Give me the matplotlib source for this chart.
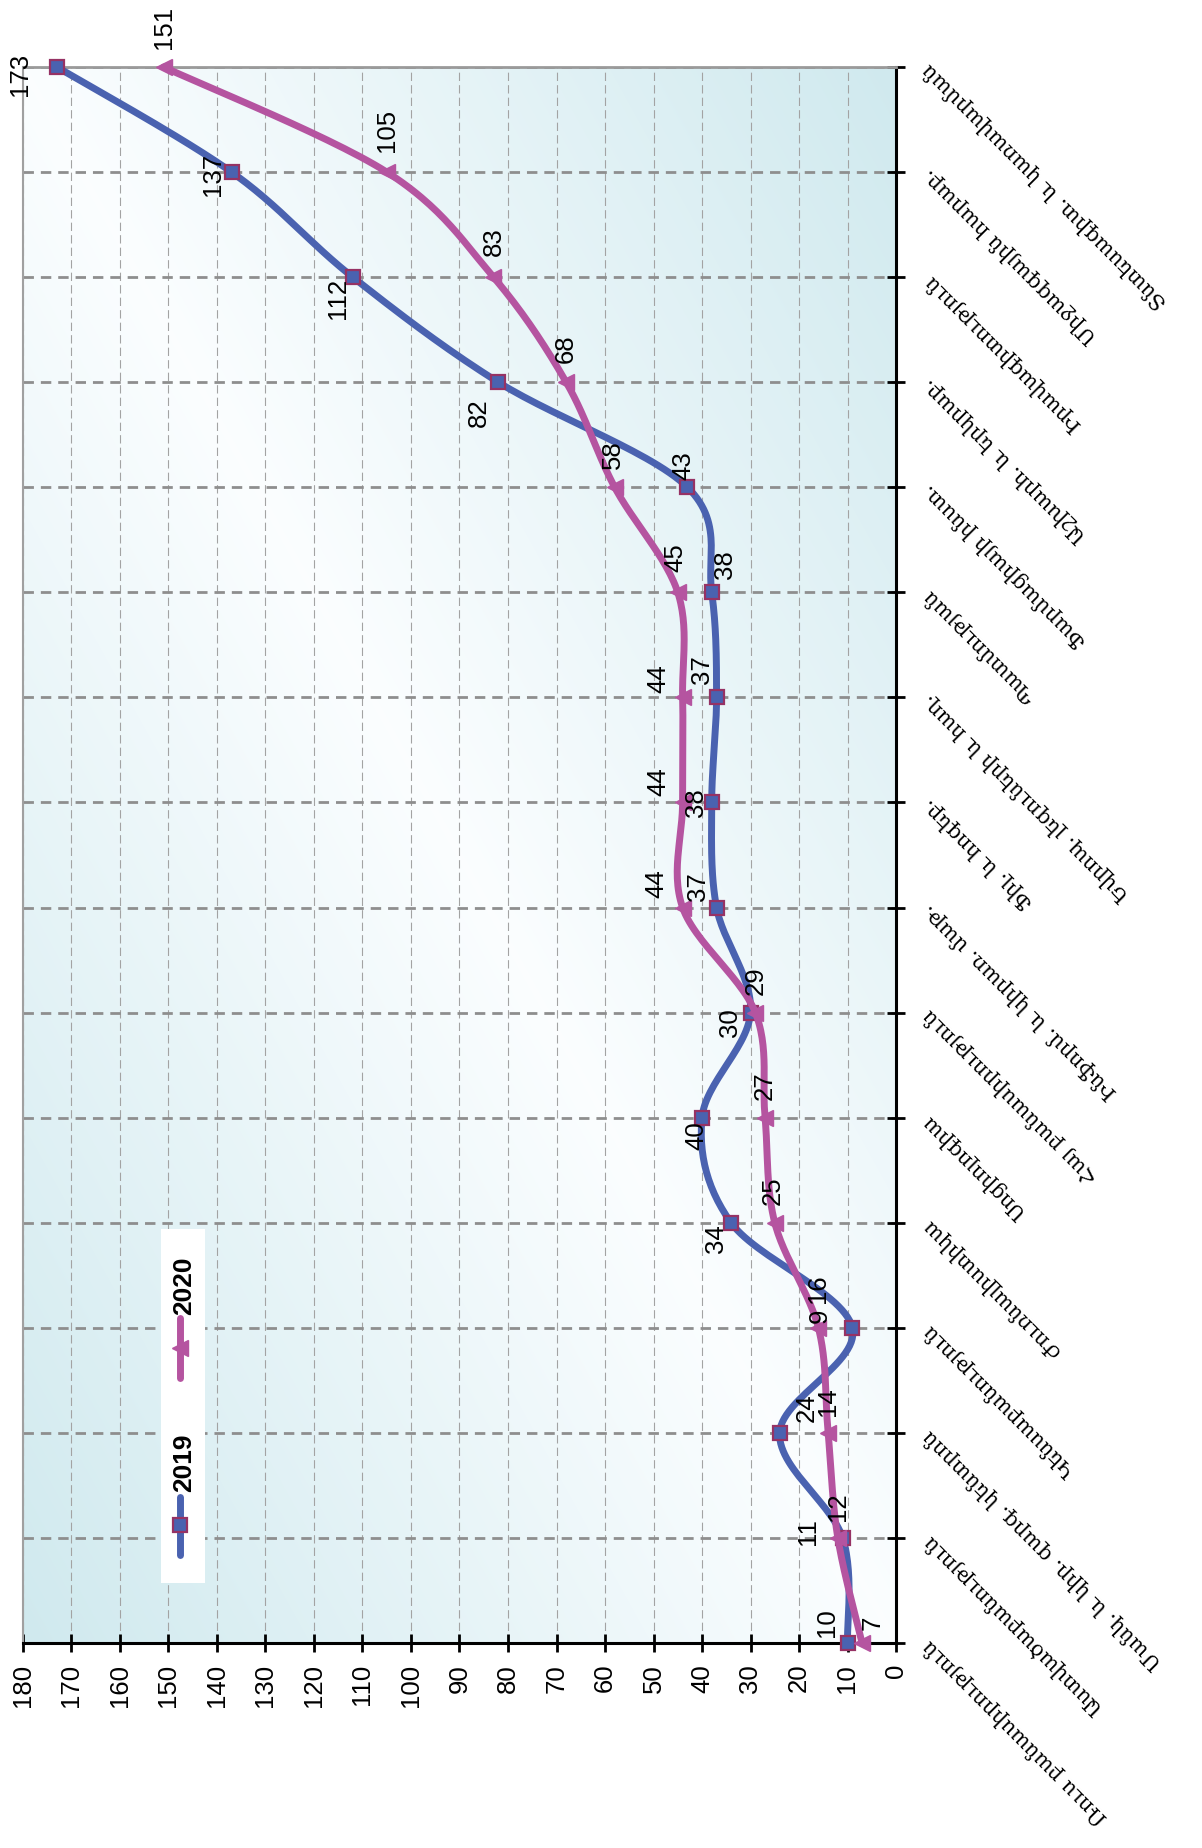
import numpy as np
import matplotlib.pyplot as plt
from matplotlib.patches import Rectangle
from matplotlib.lines import Line2D

plt.rcParams['font.family'] = ['Liberation Sans', 'DejaVu Sans']
plt.rcParams['lines.scale_dashes'] = False

# Ֆակուլտետներ (ներքևից վերև)
categories = [
    'Ռուս բանասիրություն',
    'Աստվածաբանություն',
    'Մանկ. և կիր. զարգ. կենտրոն',
    'Կենսաբանություն',
    'Ժուռնալիստիկա',
    'Սոցիոլոգիա',
    'Հայ բանասիրություն',
    'Ինֆորմ. և կիրառ. մաթ.',
    'Ֆիլ. և հոգեբ.',
    'Եվրոպ. լեզուների և հաղ.',
    'Պատմության',
    'Ֆարմացիայի ինստ.',
    'Աշխարհ. և երկրաբ.',
    'Իրավագիտություն',
    'Միջազգային հարաբ.',
    'Տնտեսագիտ. և կառավարման',
]
v2019 = [10, 11, 24, 9, 34, 40, 30, 37, 38, 37, 38, 43, 82, 112, 137, 173]
v2020 = [7, 12, 14, 16, 25, 27, 29, 44, 44, 44, 45, 58, 68, 83, 105, 151]
value_ticks = list(range(0, 181, 10))

# label offsets, pixels (right, down)
off2019 = [(-20, -20), (-35, -6), (27, -25), (-33, -12), (-15, 16), (-6, 18), (-20, 10), (-19, -21),
           (-16, 0), (-15, -28), (13, -28), (-4, -22), (-19, 30), (-15, 21), (-19, 2), (-37, 7)]
off2020 = [(11, -20), (0, -31), (0, -31), (0, -39), (-2, -32), (0, -32), (0, -32), (-26, -24),
           (-24, -21), (-24, -19), (-2, -35), (-2, -33), (0, -34), (0, -36), (0, -42), (0, -40)]

blue = '#4a62b0'
pink = '#b554a0'
edge = '#963264'


def smooth(vals, n=30):
    # Bezier smoothing through the points (like Excel "smoothed line")
    p = np.column_stack([np.array(vals, float), np.arange(len(vals), dtype=float)])
    ext = np.vstack([p[0], p, p[-1]])
    xs, ys = [], []
    t = np.linspace(0, 1, n)[:, None]
    for k in range(len(p) - 1):
        p0, p1, p2, p3 = ext[k], ext[k + 1], ext[k + 2], ext[k + 3]
        c1 = p1 + (p2 - p0) / 6
        c2 = p2 - (p3 - p1) / 6
        seg = (1 - t) ** 3 * p1 + 3 * (1 - t) ** 2 * t * c1 + 3 * (1 - t) * t ** 2 * c2 + t ** 3 * p2
        xs.append(seg[:, 0])
        ys.append(seg[:, 1])
    return np.concatenate(xs), np.concatenate(ys)


fig = plt.figure(figsize=(12.02, 18.48), dpi=100)
ax = fig.add_axes([23 / 1202, 1 - 1643 / 1848, 873 / 1202, 1576 / 1848])

n = len(categories)
idx = np.arange(n)
ax.set_xlim(180, 0)
ax.set_ylim(0, n - 1)

# gradient background: white along the diagonal, teal at top-right and bottom-left
gx, gy = np.meshgrid(np.linspace(0, 1, 300), np.linspace(0, 1, 300))
tt = np.abs(gx - gy)
white = np.array([0.985, 0.995, 1.0])
teal = np.array([0.815, 0.915, 0.935])
img = white + (teal - white) * tt[..., None]
ax.imshow(img, extent=[180, 0, 0, n - 1], aspect='auto', zorder=0, interpolation='bilinear')

ax.set_axisbelow(True)
ax.xaxis.grid(True, color='#a3a3a3', lw=0.8, ls=(0, (6, 3)))
ax.yaxis.grid(True, color='#8e8e8e', lw=2.0, ls=(0, (7.5, 5)))

# lines
bx, by = smooth(v2019)
ax.plot(bx, by, color=blue, lw=5, solid_capstyle='round', zorder=3, clip_on=False)
ax.plot(v2019, idx, ls='none', marker='s', ms=9.5, mfc=blue, mec=edge, mew=1.6, zorder=4, clip_on=False)
px, py = smooth(v2020)
ax.plot(px, py, color=pink, lw=5, solid_capstyle='round', zorder=5, clip_on=False)
ax.plot(v2020, idx, ls='none', marker='<', ms=11, mfc=pink, mec=pink, zorder=6, clip_on=False)

for i in range(n):
    dx, dy = off2019[i]
    ax.annotate(str(v2019[i]), (v2019[i], i), xytext=(dx * 0.72, -dy * 0.72), textcoords='offset points',
                rotation=90, ha='center', va='center', fontsize=18.5, zorder=8)
    dx, dy = off2020[i]
    ax.annotate(str(v2020[i]), (v2020[i], i), xytext=(dx * 0.72, -dy * 0.72), textcoords='offset points',
                rotation=90, ha='center', va='center', fontsize=18.5, zorder=8)

# axes
for s in ['right', 'bottom']:
    ax.spines[s].set_color('black')
    ax.spines[s].set_linewidth(2.2)
ax.spines['top'].set_color('#9a9a9a')
ax.spines['top'].set_linewidth(2)
ax.spines['left'].set_color('#a0a0a0')
ax.spines['left'].set_linewidth(1.5)

ax.set_xticks(value_ticks)
ax.set_xticklabels([str(v) for v in value_ticks])
ax.tick_params(axis='x', direction='inout', length=13, width=2, pad=8.5, labelsize=18.5, labelrotation=90)

ax.yaxis.tick_right()
ax.tick_params(axis='y', direction='inout', length=13, width=2, pad=15)
ax.set_yticks(idx)
ax.set_yticklabels(categories, fontsize=15, family=['DejaVu Serif', 'DejaVu Sans'],
                   rotation=135, rotation_mode='anchor', ha='right', va='center')

# legend (rotated like the chart)
ax.add_patch(Rectangle((0.158, 0.038), 0.0505, 0.225, transform=ax.transAxes,
                       facecolor='white', edgecolor='none', zorder=9))
ax.add_line(Line2D([0.18, 0.18], [0.0558, 0.0926], transform=ax.transAxes, color=blue, lw=5,
                   solid_capstyle='round', zorder=10))
ax.add_line(Line2D([0.18], [0.0749], transform=ax.transAxes, ls='none', marker='s', ms=9.5,
                   mfc=blue, mec=edge, mew=1.6, zorder=11))
ax.text(0.1844, 0.1142, '2019', transform=ax.transAxes, rotation=90, ha='center', va='center',
        fontsize=19, fontweight='bold', zorder=11)
ax.add_line(Line2D([0.18, 0.18], [0.1681, 0.2062], transform=ax.transAxes, color=pink, lw=5,
                   solid_capstyle='round', zorder=10))
ax.add_line(Line2D([0.18], [0.1872], transform=ax.transAxes, ls='none', marker='<', ms=11,
                   mfc=pink, mec=pink, zorder=11))
ax.text(0.1844, 0.2265, '2020', transform=ax.transAxes, rotation=90, ha='center', va='center',
        fontsize=19, fontweight='bold', zorder=11)

fig.savefig('out.png', dpi=100)
